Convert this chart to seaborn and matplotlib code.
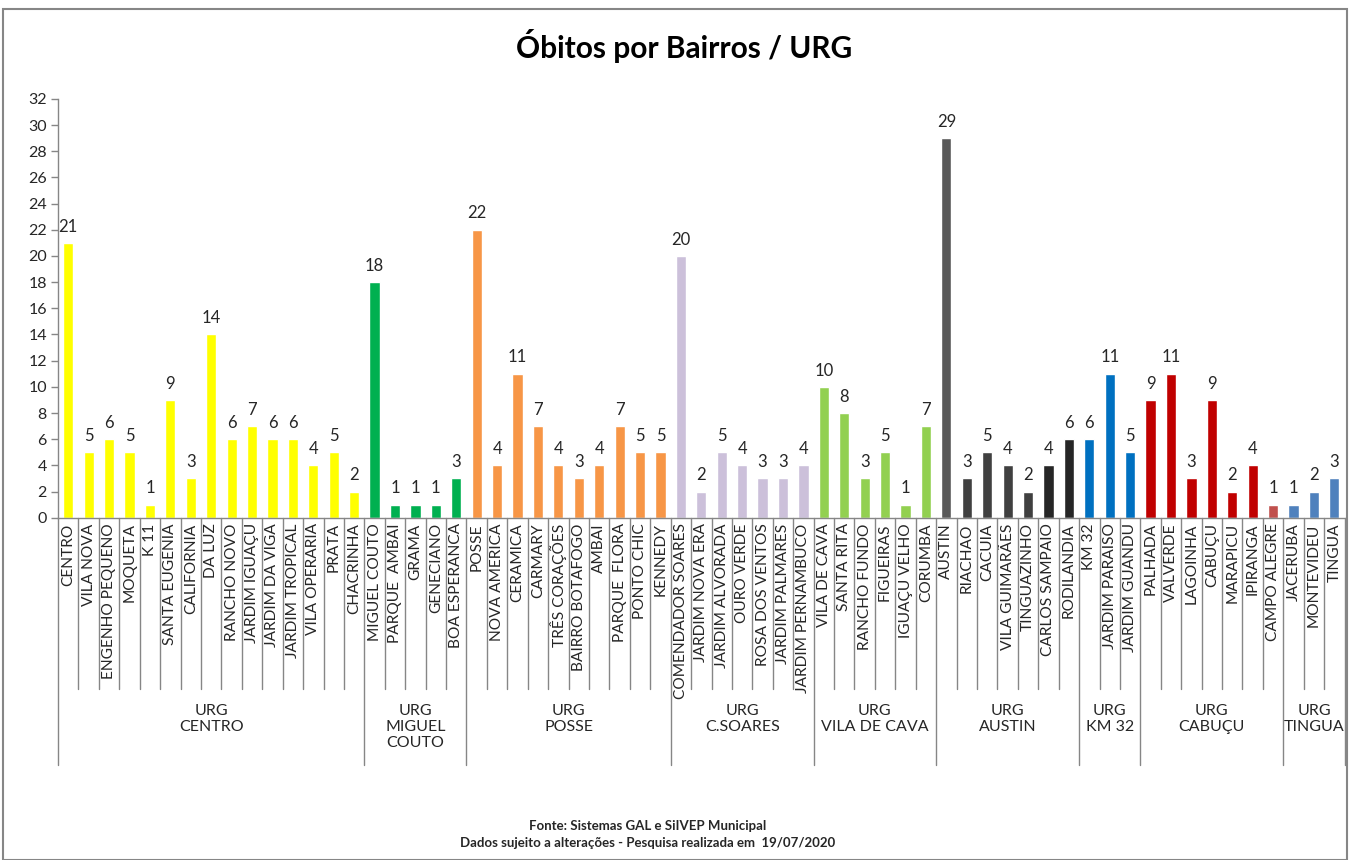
import numpy as np
import pandas as pd
import matplotlib
matplotlib.use("Agg")
import matplotlib.pyplot as plt
import matplotlib.transforms as mtransforms
from matplotlib.patches import Rectangle
import seaborn as sns

# Dados por URG
urg_labels = ["URG\nCENTRO", "URG\nMIGUEL\nCOUTO", "URG\nPOSSE", "URG\nC.SOARES",
              "URG\nVILA DE CAVA", "URG\nAUSTIN", "URG\nKM 32", "URG\nCABUÇU", "URG\nTINGUA"]

bairros_centro = ["CENTRO", "VILA NOVA", "ENGENHO PEQUENO", "MOQUETA", "K 11", "SANTA EUGENIA",
                  "CALIFORNIA", "DA LUZ", "RANCHO NOVO", "JARDIM IGUAÇU", "JARDIM DA VIGA",
                  "JARDIM TROPICAL", "VILA OPERARIA", "PRATA", "CHACRINHA"]
obitos_centro = [21, 5, 6, 5, 1, 9, 3, 14, 6, 7, 6, 6, 4, 5, 2]

bairros_miguel = ["MIGUEL COUTO", "PARQUE  AMBAI", "GRAMA", "GENECIANO", "BOA ESPERANCA"]
obitos_miguel = [18, 1, 1, 1, 3]

bairros_posse = ["POSSE", "NOVA AMERICA", "CERAMICA", "CARMARY", "TRÊS CORAÇÕES",
                 "BAIRRO BOTAFOGO", "AMBAI", "PARQUE  FLORA", "PONTO CHIC", "KENNEDY"]
obitos_posse = [22, 4, 11, 7, 4, 3, 4, 7, 5, 5]

bairros_csoares = ["COMENDADOR SOARES", "JARDIM NOVA ERA", "JARDIM ALVORADA", "OURO VERDE",
                   "ROSA DOS VENTOS", "JARDIM PALMARES", "JARDIM PERNAMBUCO"]
obitos_csoares = [20, 2, 5, 4, 3, 3, 4]

bairros_cava = ["VILA DE CAVA", "SANTA RITA", "RANCHO FUNDO", "FIGUEIRAS", "IGUAÇU VELHO", "CORUMBA"]
obitos_cava = [10, 8, 3, 5, 1, 7]

bairros_austin = ["AUSTIN", "RIACHAO", "CACUIA", "VILA GUIMARÃES", "TINGUAZINHO",
                  "CARLOS SAMPAIO", "RODILANDIA"]
obitos_austin = [29, 3, 5, 4, 2, 4, 6]

bairros_km32 = ["KM 32", "JARDIM PARAISO", "JARDIM GUANDU"]
obitos_km32 = [6, 11, 5]

bairros_cabucu = ["PALHADA", "VALVERDE", "LAGOINHA", "CABUÇU", "MARAPICU", "IPIRANGA", "CAMPO ALEGRE"]
obitos_cabucu = [9, 11, 3, 9, 2, 4, 1]

bairros_tingua = ["JACERUBA", "MONTEVIDEU", "TINGUA"]
obitos_tingua = [1, 2, 3]

grupos_bairros = [bairros_centro, bairros_miguel, bairros_posse, bairros_csoares, bairros_cava,
                  bairros_austin, bairros_km32, bairros_cabucu, bairros_tingua]
grupos_obitos = [obitos_centro, obitos_miguel, obitos_posse, obitos_csoares, obitos_cava,
                 obitos_austin, obitos_km32, obitos_cabucu, obitos_tingua]

# Cores (estilo Excel)
cores_grupos = [
    ["#FFFF00"] * 15,
    ["#00B050"] * 5,
    ["#F79646"] * 10,
    ["#CCC0DA"] * 7,
    ["#92D050"] * 6,
    ["#595959", "#404040", "#404040", "#404040", "#404040", "#262626", "#262626"],
    ["#0070C0"] * 3,
    ["#C00000"] * 6 + ["#C0504D"],
    ["#4F81BD"] * 3,
]

df = pd.DataFrame({
    "bairro": sum(grupos_bairros, []),
    "obitos": sum(grupos_obitos, []),
})
paleta = dict(zip(df["bairro"], sum(cores_grupos, [])))

sns.set_style("white")
plt.rcParams["font.family"] = ["Lato", "DejaVu Sans"]

fig = plt.figure(figsize=(13.5, 8.6), dpi=100)
ax = fig.add_axes([0.043, 0.398, 0.953, 0.487])

sns.barplot(data=df, x="bairro", y="obitos", hue="bairro", palette=paleta,
            width=0.5, legend=False, saturation=1, ax=ax)

for cont in ax.containers:
    ax.bar_label(cont, padding=6, fontsize=12, color="#262626")

n = len(df)
ax.set_xlim(-0.5, n - 0.5)
ax.set_ylim(0, 32)
ax.set_yticks(np.arange(0, 33, 2))
ax.tick_params(axis="y", labelsize=11.5, length=5, width=1, color="#868686",
               left=True, pad=3, labelcolor="#262626")
ax.set_xticks(range(n))
ax.set_xticklabels(df["bairro"], rotation=90, fontsize=11.2, va="top", color="#262626")
ax.tick_params(axis="x", length=0, pad=4)
ax.set_xlabel("")
ax.set_ylabel("")
for s in ["top", "right"]:
    ax.spines[s].set_visible(False)
for s in ["left", "bottom"]:
    ax.spines[s].set_color("#868686")
    ax.spines[s].set_linewidth(1)

# separadores de categorias e grupos
trans = mtransforms.blended_transform_factory(ax.transData, ax.transAxes)
limites = np.cumsum([0] + [len(b) for b in grupos_bairros]) - 0.5
for xb in np.arange(-0.5, n, 1.0):
    ybot = -0.59 if np.any(np.isclose(limites, xb)) else -0.41
    ax.plot([xb, xb], [0, ybot], transform=trans, color="#868686", lw=1, clip_on=False)

for i, lab in enumerate(urg_labels):
    xc = (limites[i] + limites[i + 1]) / 2
    ax.text(xc, -0.445, lab, transform=trans, ha="center", va="top",
            fontsize=11.5, color="#262626", linespacing=1.2)

fig.text(0.507, 0.947, "Óbitos por Bairros / URG", ha="center", va="center",
         fontsize=21.5, fontweight="bold", color="black")
fig.text(0.48, 0.03, "Fonte: Sistemas GAL e SiIVEP Municipal\n"
         "Dados sujeito a alterações - Pesquisa realizada em  19/07/2020",
         ha="center", va="center", fontsize=9.5, fontweight="bold", linespacing=1.5)

fig.patches.append(Rectangle((0.002, 0.0), 0.996, 0.989, transform=fig.transFigure,
                             fill=False, edgecolor="#868686", lw=1.5))

fig.savefig("out.png", dpi=100)
